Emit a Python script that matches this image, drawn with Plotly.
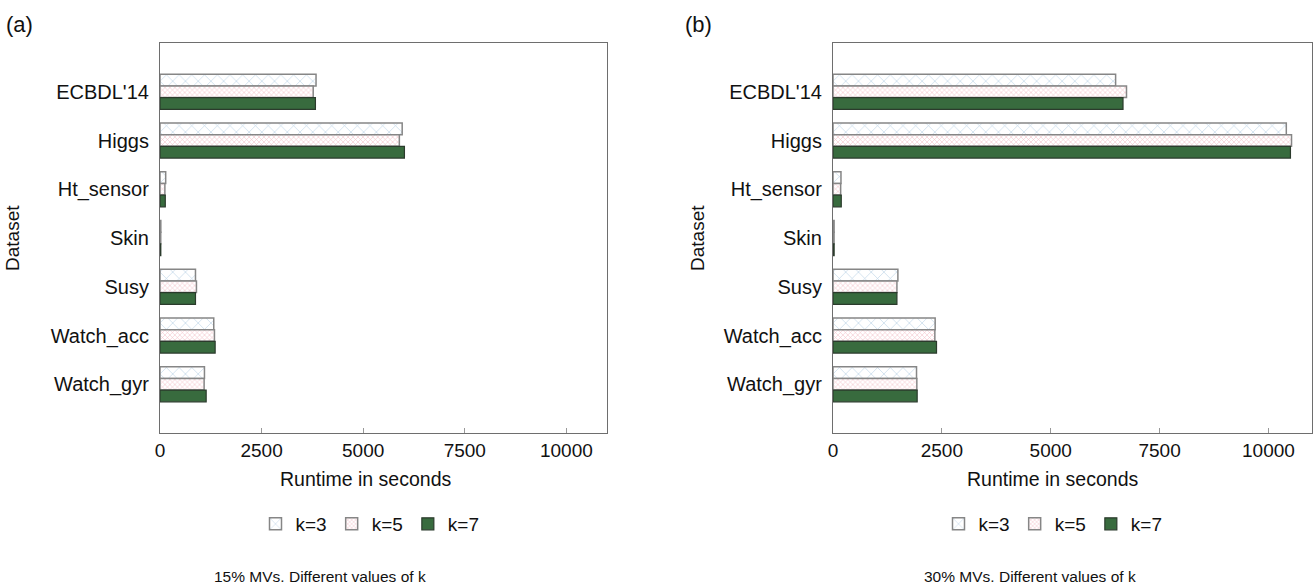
import plotly.graph_objects as go

datasets = ["ECBDL'14", "Higgs", "Ht_sensor", "Skin", "Susy", "Watch_acc", "Watch_gyr"]
k_labels = ["k=3", "k=5", "k=7"]

# Panel (a): 15% MVs
a_k3 = [3840, 5960, 140, 20, 873, 1323, 1094]
a_k5 = [3770, 5890, 120, 18, 897, 1340, 1086]
a_k7 = [3825, 6015, 130, 20, 873, 1357, 1136]

# Panel (b): 30% MVs
b_k3 = [6490, 10410, 183, 25, 1490, 2346, 1918]
b_k5 = [6740, 10530, 176, 24, 1468, 2339, 1925]
b_k7 = [6660, 10505, 190, 26, 1468, 2377, 1933]

x_ticks = [0, 2500, 5000, 7500, 10000]
x_tick_text = ["0", "2500", "5000", "7500", "10000"]
captions = ["15% MVs. Different values of k", "30% MVs. Different values of k"]

W, H = 1313, 585
FONT = "Liberation Sans, Arial, sans-serif"

styles = [
    dict(color="white", line=dict(color="#868686", width=1.5),
         pattern=dict(shape="x", fgcolor="#7eaad0", size=9, solidity=0.14)),
    dict(color="white", line=dict(color="#868686", width=1.5),
         pattern=dict(shape="x", fgcolor="#e67f8d", size=3.5, solidity=0.3)),
    dict(color="#386b3e", line=dict(color="#2b3b2c", width=1.2)),
]

fig = go.Figure()
panels = [(a_k3, a_k5, a_k7), (b_k3, b_k5, b_k7)]
for p, series in enumerate(panels):
    xa = "x" if p == 0 else "x2"
    ya = "y" if p == 0 else "y2"
    lg = "legend" if p == 0 else "legend2"
    for i, vals in enumerate(series):
        fig.add_trace(go.Bar(
            x=vals, y=datasets, orientation="h", name=k_labels[i],
            marker=styles[i], xaxis=xa, yaxis=ya, legend=lg,
            offsetgroup=str(i),
        ))

PT, PB = 43, 433  # plot top / bottom in page pixels

def px(v):
    return v / W

def cy(v):
    return 1 - v / H

def py(v):
    return (PB - v) / (PB - PT)

axis_common = dict(showline=True, linecolor="#6e6e6e", linewidth=1.2, mirror=True,
                   showgrid=False, zeroline=False, automargin=False)

xcommon = dict(range=[0, 11000], tickvals=x_ticks, ticktext=x_tick_text,
               ticks="inside", ticklen=5, tickcolor="#999999",
               tickfont=dict(size=19), **axis_common)
ycommon = dict(domain=[0, 1], type="category", categoryarray=datasets, range=[7, -1],
               ticks="", ticklabelstandoff=6, tickfont=dict(size=20), **axis_common)

fig.update_layout(
    width=W, height=H,
    margin=dict(l=0, r=0, t=PT, b=H - PB, autoexpand=False),
    paper_bgcolor="white", plot_bgcolor="white",
    font=dict(family=FONT, size=19, color="#111111"),
    barmode="group", bargap=0.28, bargroupgap=0.0,
    xaxis=dict(domain=[px(160), px(607)], anchor="y", **xcommon),
    yaxis=dict(anchor="x", **ycommon),
    xaxis2=dict(domain=[px(833), px(1312)], anchor="y2", **xcommon),
    yaxis2=dict(anchor="x2", **ycommon),
    legend=dict(orientation="h", x=px(370), xanchor="center", yref="container",
                y=cy(524), yanchor="middle", font=dict(size=19), traceorder="normal"),
    legend2=dict(orientation="h", x=px(1053), xanchor="center", yref="container",
                 y=cy(524), yanchor="middle", font=dict(size=19), traceorder="normal"),
    showlegend=True,
)

ann = []
def add_text(text, x, y, size, **kw):
    ann.append(dict(text=text, x=x, y=y, xref="paper", yref="paper", showarrow=False,
                    font=dict(size=size, family=FONT, color="#111111"), **kw))

add_text("Runtime in seconds", px(366), py(479), 19.5, xanchor="center", yanchor="middle")
add_text("Runtime in seconds", px(1053), py(479), 19.5, xanchor="center", yanchor="middle")
add_text(captions[0], px(320), py(576), 15.5, xanchor="center", yanchor="middle")
add_text(captions[1], px(1030), py(576), 15.5, xanchor="center", yanchor="middle")
add_text("Dataset", px(12), 0.5, 19, xanchor="center", yanchor="middle", textangle=-90)
add_text("Dataset", px(697), 0.5, 19, xanchor="center", yanchor="middle", textangle=-90)
add_text("(a)", px(4), py(25), 22, xanchor="left", yanchor="middle")
add_text("(b)", px(683), py(25), 22, xanchor="left", yanchor="middle")
fig.update_layout(annotations=ann)

# remove the default page margin so the figure fills the window exactly
fig.write_html("out.html", config={"displayModeBar": False},
               post_script="document.body.style.margin='0';document.body.style.overflow='hidden';")
